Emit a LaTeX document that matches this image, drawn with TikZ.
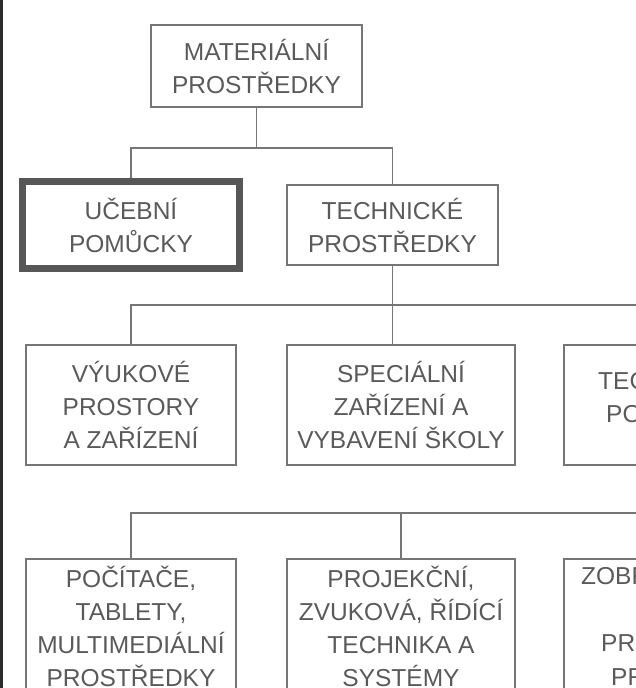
\documentclass[tikz,border=0pt]{standalone}
\usepackage{fontspec}
\setmainfont{Liberation Sans}
\definecolor{txtgray}{HTML}{5A5A5A}
\definecolor{linegray}{HTML}{767676}
\definecolor{framegray}{HTML}{575757}
\definecolor{edgedark}{HTML}{2B2B2B}
\tikzset{
	box/.style={draw=linegray, line width=1.1pt, inner sep=0pt, align=center, text=txtgray, font=\fontsize{24.5}{33}\selectfont},
	thickbox/.style={box, draw=framegray, line width=7pt},
	part/.style={anchor=base west, inner sep=0pt, text=txtgray, font=\fontsize{24.5}{33}\selectfont},
	conn/.style={draw=linegray, line width=1.1pt}
}

\begin{document}
\begin{tikzpicture}[x=1pt,y=-1pt]
			%%%%% START %%%%%
			\useasboundingbox (0,0) rectangle (636,688);
			\clip (0,0) rectangle (636,688);
			
			\fill[edgedark] (0,0) rectangle (3,688);
			
			\node[box, minimum width=211pt, minimum height=82pt] (mat) at (256.5,66) {MATERIÁLNÍ\\PROSTŘEDKY};
			
			\node[thickbox, minimum width=217pt, minimum height=87pt] (ucb) at (131,225) {UČEBNÍ\\POMŮCKY};
			\node[box, minimum width=211pt, minimum height=80pt] (tech) at (392.5,225) {TECHNICKÉ\\PROSTŘEDKY};
			
			\node[box, minimum width=210pt, minimum height=120pt] (vyuk) at (131,405) {VÝUKOVÉ\\PROSTORY\\A ZAŘÍZENÍ};
			\node[box, minimum width=228pt, minimum height=120pt] (spec) at (401,405) {SPECIÁLNÍ\\ZAŘÍZENÍ A\\VYBAVENÍ ŠKOLY};
			\node[box, minimum width=228pt, minimum height=120pt] (tpom) at (678,405) {};
			\node[part] (tpomA) at (598,389) {TEC};
			\node[part] (tpomB) at (606,422) {PO};
			
			\node[box, minimum width=210pt, minimum height=134pt] (poc) at (131,626) {POČÍTAČE,\\TABLETY,\\MULTIMEDIÁLNÍ\\PROSTŘEDKY};
			\node[box, minimum width=228pt, minimum height=134pt] (proj) at (401,626) {PROJEKČNÍ,\\ZVUKOVÁ, ŘÍDÍCÍ\\TECHNIKA A\\SYSTÉMY};
			\node[box, minimum width=228pt, minimum height=134pt] (zob) at (678,626) {};
			\node[part] (zobA) at (581,584) {ZOBR};
			\node[part] (zobB) at (601,651) {PRO};
			\node[part] (zobC) at (611,685) {PR};
			
			% connectors
			\coordinate (bus1) at (256.5,148);
			\coordinate (bus2) at (640,305);
			\coordinate (bus3) at (640,513);
			
			\draw[conn] (mat.south) -- (bus1);
			\draw[conn] (ucb.north) |- (bus1) -| (tech.north);
			
			\draw[conn] (tech.south) -- (tech.south |- spec.north);
			\draw[conn] (vyuk.north) |- (bus2);
			
			\draw[conn] (poc.north) |- (bus3);
			\draw[conn] (proj.north) -- (proj.north |- bus3);
			
			%%%%% END %%%%%
\end{tikzpicture}
\end{document}
